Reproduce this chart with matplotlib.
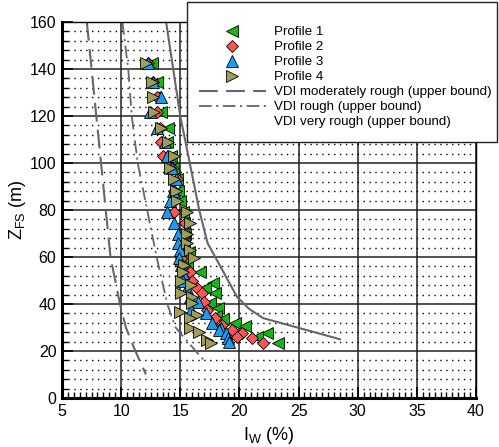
import matplotlib
matplotlib.use("Agg")
import matplotlib.pyplot as plt
from matplotlib.lines import Line2D
from matplotlib.patches import Rectangle
from matplotlib.ticker import MultipleLocator

plt.rcParams['font.family'] = ['Liberation Sans', 'DejaVu Sans']
plt.rcParams['mathtext.fontset'] = 'custom'
plt.rcParams['mathtext.rm'] = 'Liberation Sans'
plt.rcParams['mathtext.it'] = 'Liberation Sans'

# ---- data ----
z1 = [142.5, 134.5, 128, 121.7, 115, 109, 103, 98, 93, 88, 84, 79, 74.5, 70, 66, 62,
      59.5, 56.6, 53.6, 49, 47, 44.6, 40.4, 38.5, 35, 33.5, 32, 30.5, 27.7, 26, 23.4]
i1 = [12.6, 13.0, 12.9, 13.4, 14.0, 13.9, 14.2, 14.4, 14.7, 14.8, 15.0, 15.2, 15.3, 15.4, 15.3, 15.7,
      15.4, 15.6, 16.7, 17.8, 17.1, 17.9, 17.5, 18.2, 18.0, 18.6, 19.6, 20.5, 22.3, 21.5, 23.3]

z2 = [142.5, 134.5, 128, 121.7, 115, 109, 103, 98, 93, 88, 84, 79, 74.5, 70, 66, 62,
      59.5, 56.6, 53.6, 50, 47, 44.6, 41, 37.4, 34, 31, 29, 27.6, 26, 25.5, 23.4]
i2 = [12.3, 12.7, 13.0, 13.0, 13.3, 13.4, 13.5, 14.3, 14.7, 14.5, 14.5, 14.5, 15.4, 15.5, 15.4, 15.2,
      15.1, 15.1, 15.8, 16.0, 16.4, 16.8, 17.0, 17.3, 17.9, 18.5, 19.4, 20.2, 19.8, 21.1, 22.0]

z3 = [142.5, 134.5, 128, 121.7, 115, 109, 103, 98, 93, 88, 84, 79, 74.5, 70, 66, 63,
      59.5, 56.6, 53, 50, 47, 43, 41, 37.5, 36, 32, 30, 29, 27.6, 25.5, 24]
i3 = [12.3, 12.7, 13.4, 12.4, 13.0, 13.7, 13.9, 14.3, 14.6, 14.4, 14.1, 13.9, 14.5, 14.8, 14.8, 15.0,
      14.9, 15.1, 15.2, 15.2, 15.6, 15.8, 16.5, 15.9, 17.2, 17.7, 18.4, 18.3, 18.9, 19.0, 19.1]

z4 = [142.5, 134.5, 128, 121.7, 115, 109, 103, 98, 93, 88, 84, 79, 74.5, 70, 66, 63,
      59.5, 56.6, 53.6, 50, 48, 44.6, 43, 40.4, 36.6, 35.3, 34, 30, 28, 24.7, 23.4]
i4 = [12.1, 12.6, 12.7, 12.8, 13.4, 14.0, 14.5, 14.1, 14.5, 14.6, 14.7, 15.6, 15.8, 15.6, 15.6, 15.8,
      16.2, 15.3, 15.2, 15.1, 15.9, 15.1, 16.0, 16.0, 15.0, 16.4, 15.8, 15.8, 16.6, 17.3, 17.6]

z_mod = [160, 140, 120, 100, 80, 60, 40, 30, 20, 10]
i_mod = [7.1, 7.5, 7.9, 8.3, 8.7, 9.1, 9.9, 10.4, 11.2, 12.1]

z_rough = [160, 140, 120, 100, 80, 60, 40, 30, 20, 16]
i_rough = [10.1, 10.6, 10.9, 11.4, 12.2, 13.0, 13.9, 14.6, 16.3, 17.0]

z_vrough = [160, 140, 120, 100, 80, 66, 43, 38, 34, 25]
i_vrough = [13.8, 14.4, 15.0, 15.8, 16.6, 17.3, 19.8, 20.8, 22.0, 28.5]

labels = ['Profile 1', 'Profile 2', 'Profile 3', 'Profile 4',
          'VDI moderately rough (upper bound)', 'VDI rough (upper bound)',
          'VDI very rough (upper bound)']

xticks = [5, 10, 15, 20, 25, 30, 35, 40]
yticks = [0, 20, 40, 60, 80, 100, 120, 140, 160]

# ---- figure ----
fig = plt.figure(figsize=(4.99, 4.47), dpi=100)
ax = fig.add_axes([62/499, 1-398/447, (476-62)/499, (398-22)/447])
ax.set_xlim(5, 40)
ax.set_ylim(0, 160)

# grids
ax.yaxis.set_minor_locator(MultipleLocator(4))
ax.xaxis.set_minor_locator(MultipleLocator(0.5))
ax.set_xticks(xticks)
ax.set_yticks(yticks)
ax.grid(True, which='major', color='#222222', lw=1.1, zorder=1)
ax.grid(True, which='minor', axis='y', color='black', lw=1.0,
        linestyle=(0, (1.0, 3.25)), zorder=1)
ax.set_axisbelow(True)

gray = '#666666'
l_mod, = ax.plot(i_mod, z_mod, color=gray, lw=1.5, ls=(0, (9, 4)), zorder=2)
l_rough, = ax.plot(i_rough, z_rough, color=gray, lw=1.3, ls=(0, (7, 2.5, 1.2, 2.5)), zorder=2)
l_vrough, = ax.plot(i_vrough, z_vrough, color=gray, lw=1.5, zorder=2)

mk = dict(ls='none', mec='black', mew=0.6, zorder=3)
p1, = ax.plot(i1, z1, marker='<', ms=8, color='#14b814', **mk)
p2, = ax.plot(i2, z2, marker='D', ms=6.5, color='#ff5555', **mk)
p3, = ax.plot(i3, z3, marker='^', ms=8, color='#1a9cf0', **mk)
p4, = ax.plot(i4, z4, marker='>', ms=8, color='#9e9e5a', **mk)

ax.tick_params(which='major', direction='in', length=8, width=1.2, labelsize=11.5,
               top=False, right=False, pad=4)
ax.tick_params(which='minor', direction='in', length=4, width=1.0, top=False, right=False)
for s in ['left', 'bottom']:
    ax.spines[s].set_linewidth(2.2)
for s in ['top', 'right']:
    ax.spines[s].set_linewidth(1.0)

ax.set_xlabel(r'$\mathregular{I_W}$ (%)', fontsize=13, labelpad=5)
ax.set_ylabel(r'$\mathregular{Z_{FS}}$ (m)', fontsize=13, labelpad=1)

# legend box
fig.patches.append(Rectangle((187/499, 1-142/447), (497-187)/499, (142-2)/447,
                             transform=fig.transFigure, facecolor='white',
                             edgecolor='#222222', lw=1.0, zorder=5))
blank = Line2D([], [], ls='none')
leg = fig.legend([p1, p2, p3, p4, l_mod, l_rough, blank], labels,
                 loc='upper left', bbox_to_anchor=(199/499, 1-26/447),
                 frameon=False, fontsize=9.6, handlelength=5.0, handletextpad=0.6,
                 labelspacing=0.2, borderpad=0, borderaxespad=0)
leg.set_zorder(6)

fig.savefig('out.png', dpi=100)
